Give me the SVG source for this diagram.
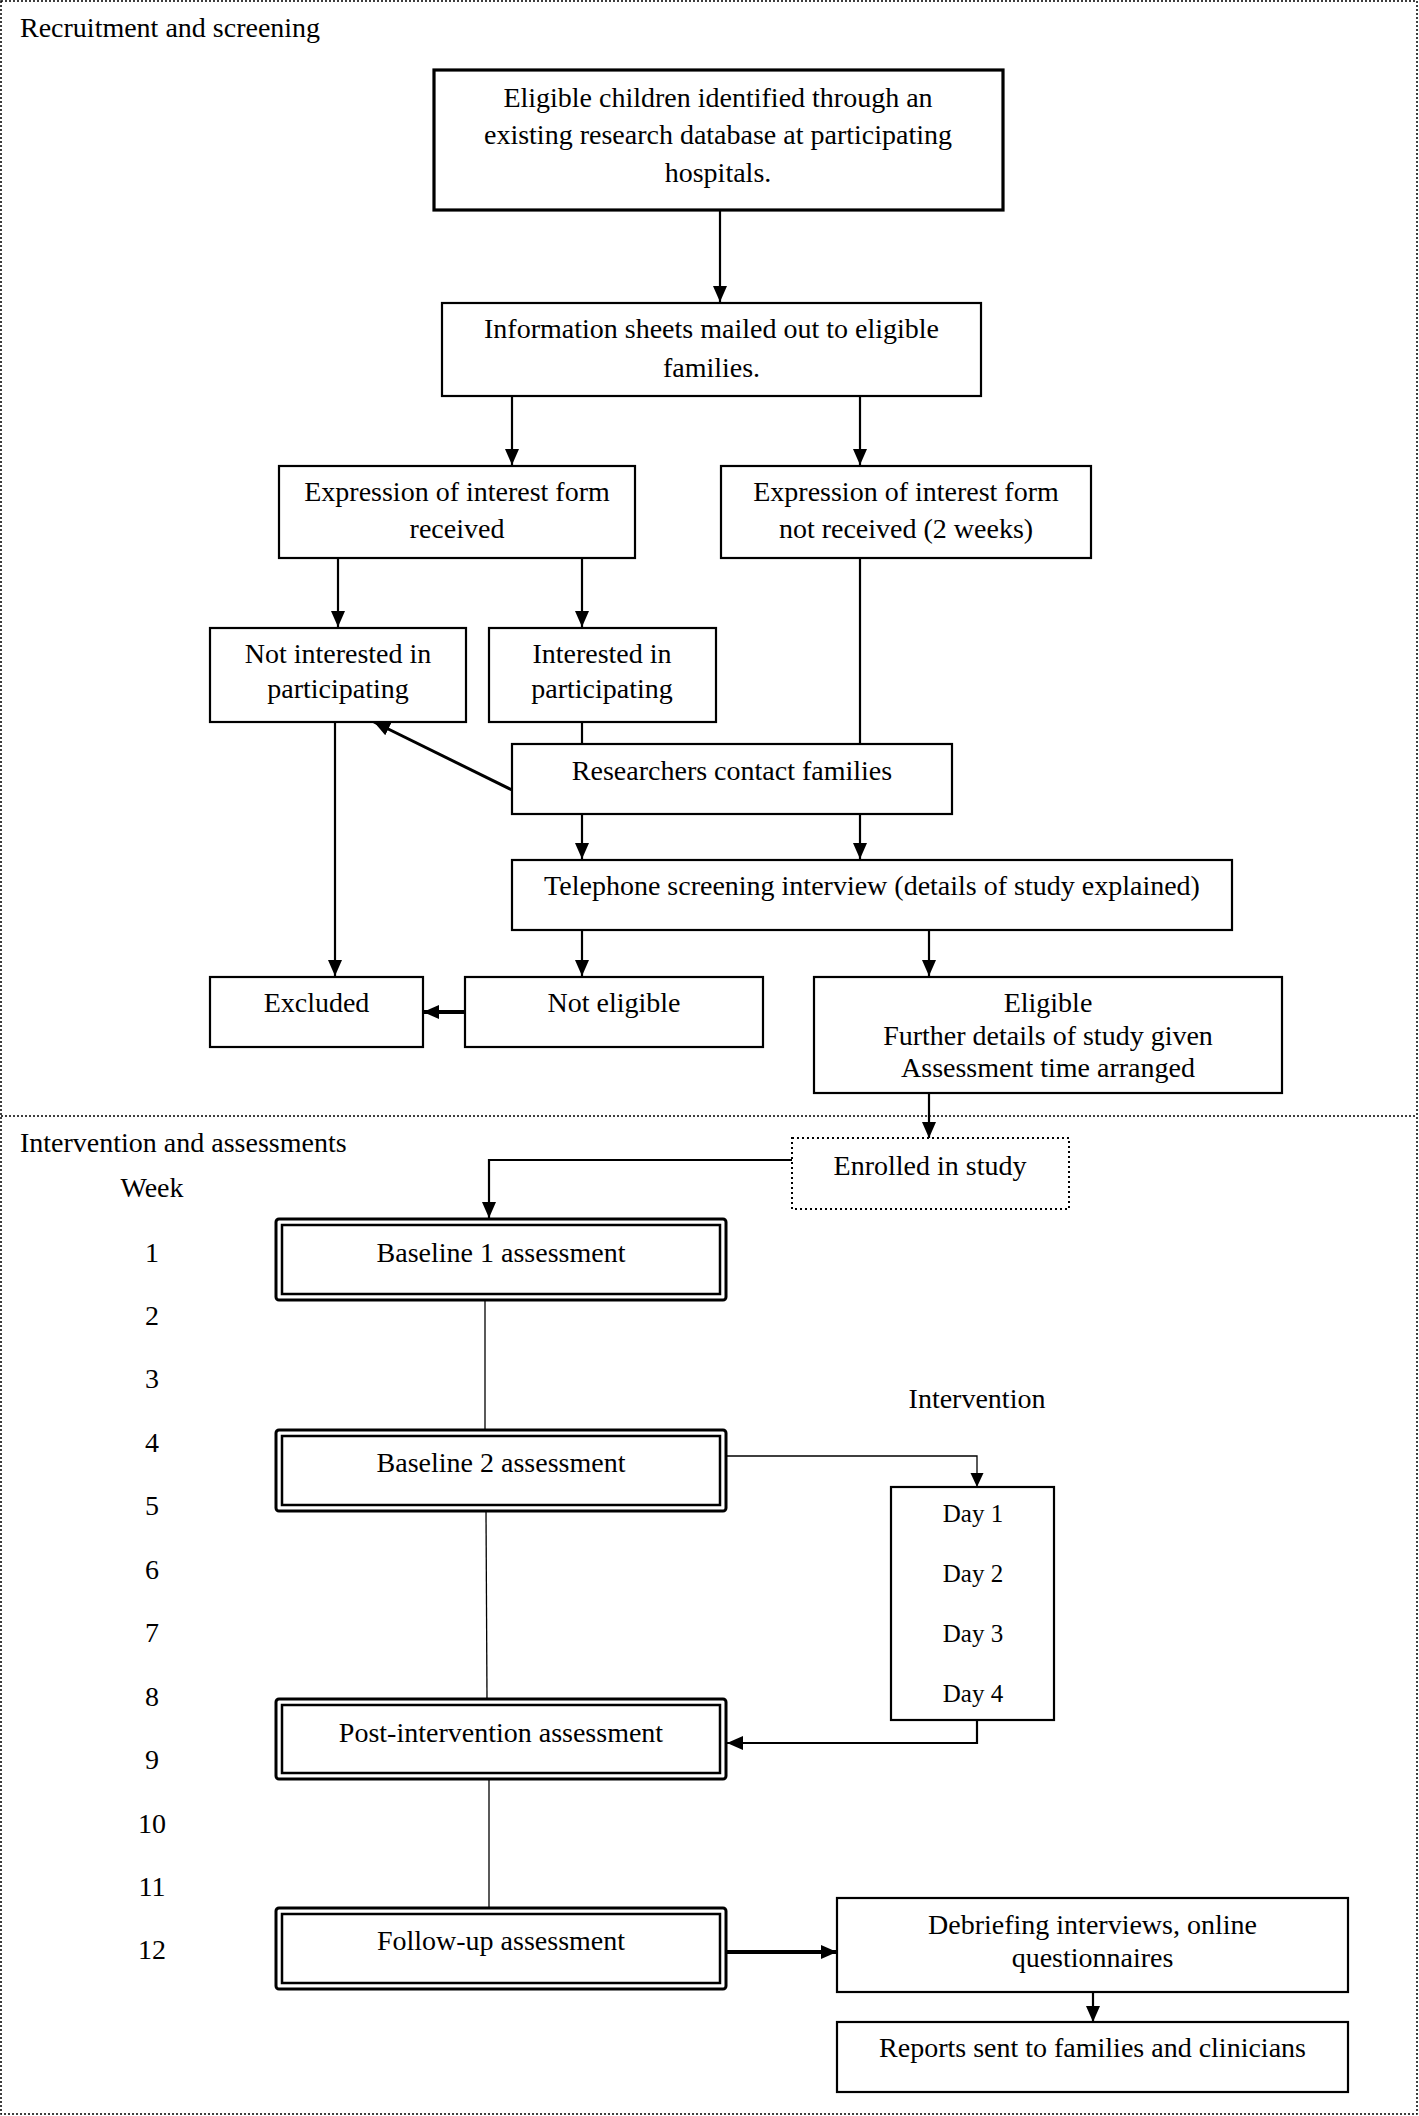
<svg xmlns="http://www.w3.org/2000/svg" width="1419" height="2116" viewBox="0 0 1419 2116">
<defs>
<marker id="ah" markerUnits="userSpaceOnUse" markerWidth="17" markerHeight="17" viewBox="0 0 17 17" refX="16" refY="8.5" orient="auto">
<path d="M0,1.5 L16,8.5 L0,15.5 z" fill="#000"/>
</marker>
<marker id="ahs" markerUnits="userSpaceOnUse" markerWidth="16" markerHeight="16" viewBox="0 0 16 16" refX="14" refY="8" orient="auto">
<path d="M0,1.5 L14,8 L0,14.5 z" fill="#000"/>
</marker>
</defs>
<style>
text{font-family:"Liberation Serif","Times New Roman",serif;font-size:28px;fill:#000}
.c{text-anchor:middle}
.d{font-size:25px}
.box{fill:#fff;stroke:#000;stroke-width:2.2}
.thick{stroke-width:3.2}
.dot{fill:#fff;stroke:#000;stroke-width:2;stroke-dasharray:2 3}
.dbo{fill:#fff;stroke:#000;stroke-width:3}
.dbi{fill:none;stroke:#000;stroke-width:2.5}
.frame{fill:none;stroke:#000;stroke-width:1.5;stroke-dasharray:2 2}
.ln{fill:none;stroke:#000;stroke-width:2.2}
.thin{fill:none;stroke:#000;stroke-width:1.3}
.bold{fill:none;stroke:#000;stroke-width:4}
.arr{marker-end:url(#ah)}
</style>

<g id="frame">
<rect class="frame" x="1" y="1" width="1416" height="2113"/>
<line class="frame" x1="1" y1="1116" x2="1417" y2="1116"/>
<text x="20" y="37">Recruitment and screening</text>
<text x="20" y="1152">Intervention and assessments</text>
</g>

<g id="weeks">
<text class="c" x="152" y="1197">Week</text>
<text class="c" x="152" y="1262">1</text>
<text class="c" x="152" y="1325">2</text>
<text class="c" x="152" y="1388">3</text>
<text class="c" x="152" y="1452">4</text>
<text class="c" x="152" y="1515">5</text>
<text class="c" x="152" y="1579">6</text>
<text class="c" x="152" y="1642">7</text>
<text class="c" x="152" y="1706">8</text>
<text class="c" x="152" y="1769">9</text>
<text class="c" x="152" y="1833">10</text>
<text class="c" x="152" y="1896">11</text>
<text class="c" x="152" y="1959">12</text>
<text class="c" x="977" y="1408">Intervention</text>
</g>

<g id="connectors">
<line class="ln arr" x1="720" y1="210" x2="720" y2="302"/>
<line class="ln arr" x1="512" y1="396" x2="512" y2="465"/>
<line class="ln arr" x1="860" y1="396" x2="860" y2="465"/>
<line class="ln arr" x1="338" y1="558" x2="338" y2="627"/>
<line class="ln arr" x1="582" y1="558" x2="582" y2="627"/>
<line class="ln" x1="860" y1="558" x2="860" y2="744"/>
<line class="ln" x1="582" y1="722" x2="582" y2="744"/>
<line class="ln arr" x1="512" y1="790" x2="374" y2="722" style="stroke-width:3"/>
<line class="ln arr" x1="335" y1="722" x2="335" y2="976"/>
<line class="ln arr" x1="582" y1="814" x2="582" y2="859"/>
<line class="ln arr" x1="860" y1="814" x2="860" y2="859"/>
<line class="ln arr" x1="582" y1="930" x2="582" y2="976"/>
<line class="ln arr" x1="929" y1="930" x2="929" y2="976"/>
<line class="bold arr" x1="465" y1="1012" x2="423" y2="1012"/>
<line class="ln arr" x1="929" y1="1093" x2="929" y2="1138"/>
<polyline class="ln arr" points="792,1160 489,1160 489,1218"/>
<line class="thin" x1="485" y1="1300" x2="485" y2="1430"/>
<line class="thin" x1="486" y1="1511" x2="487" y2="1699"/>
<polyline class="thin" marker-end="url(#ahs)" points="726,1456 977,1456 977,1487"/>
<polyline class="ln arr" points="977,1720 977,1743 727,1743"/>
<line class="thin" x1="489" y1="1779" x2="489" y2="1908"/>
<line class="bold arr" x1="726" y1="1952" x2="837" y2="1952"/>
<line class="ln arr" x1="1093" y1="1992" x2="1093" y2="2022"/>
</g>

<g id="identified">
<rect class="box thick" x="434" y="70" width="569" height="140"/>
<text class="c" x="718" y="107">Eligible children identified through an</text>
<text class="c" x="718" y="144">existing research database at participating</text>
<text class="c" x="718" y="182">hospitals.</text>
</g>
<g id="info-sheets">
<rect class="box" x="442" y="303" width="539" height="93"/>
<text class="c" x="711.5" y="338">Information sheets mailed out to eligible</text>
<text class="c" x="711.5" y="377">families.</text>
</g>
<g id="eoi-received">
<rect class="box" x="279" y="466" width="356" height="92"/>
<text class="c" x="457" y="501">Expression of interest form</text>
<text class="c" x="457" y="538">received</text>
</g>
<g id="eoi-not-received">
<rect class="box" x="721" y="466" width="370" height="92"/>
<text class="c" x="906" y="501">Expression of interest form</text>
<text class="c" x="906" y="538">not received (2 weeks)</text>
</g>
<g id="not-interested">
<rect class="box" x="210" y="628" width="256" height="94"/>
<text class="c" x="338" y="663">Not interested in</text>
<text class="c" x="338" y="698">participating</text>
</g>
<g id="interested">
<rect class="box" x="489" y="628" width="227" height="94"/>
<text class="c" x="602" y="663">Interested in</text>
<text class="c" x="602" y="698">participating</text>
</g>
<g id="researchers">
<rect class="box" x="512" y="744" width="440" height="70"/>
<text class="c" x="732" y="780">Researchers contact families</text>
</g>
<g id="telephone">
<rect class="box" x="512" y="860" width="720" height="70"/>
<text class="c" x="872" y="895">Telephone screening interview (details of study explained)</text>
</g>
<g id="excluded">
<rect class="box" x="210" y="977" width="213" height="70"/>
<text class="c" x="316.5" y="1012">Excluded</text>
</g>
<g id="not-eligible">
<rect class="box" x="465" y="977" width="298" height="70"/>
<text class="c" x="614" y="1012">Not eligible</text>
</g>
<g id="eligible">
<rect class="box" x="814" y="977" width="468" height="116"/>
<text class="c" x="1048" y="1012">Eligible</text>
<text class="c" x="1048" y="1045">Further details of study given</text>
<text class="c" x="1048" y="1077">Assessment time arranged</text>
</g>
<g id="enrolled">
<rect class="dot" x="792" y="1138" width="277" height="71"/>
<text class="c" x="930" y="1175">Enrolled in study</text>
</g>
<g id="baseline1">
<rect class="dbo" x="276" y="1219" width="450" height="81" rx="3"/>
<rect class="dbi" x="282" y="1225" width="438" height="69"/>
<text class="c" x="501" y="1262">Baseline 1 assessment</text>
</g>
<g id="baseline2">
<rect class="dbo" x="276" y="1430" width="450" height="81" rx="3"/>
<rect class="dbi" x="282" y="1436" width="438" height="69"/>
<text class="c" x="501" y="1472">Baseline 2 assessment</text>
</g>
<g id="post-intervention">
<rect class="dbo" x="276" y="1699" width="450" height="80" rx="3"/>
<rect class="dbi" x="282" y="1705" width="438" height="68"/>
<text class="c" x="501" y="1742">Post-intervention assessment</text>
</g>
<g id="follow-up">
<rect class="dbo" x="276" y="1908" width="450" height="81" rx="3"/>
<rect class="dbi" x="282" y="1914" width="438" height="69"/>
<text class="c" x="501" y="1950">Follow-up assessment</text>
</g>
<g id="days">
<rect class="box" x="891" y="1487" width="163" height="233"/>
<text class="c d" x="973" y="1522">Day 1</text>
<text class="c d" x="973" y="1582">Day 2</text>
<text class="c d" x="973" y="1642">Day 3</text>
<text class="c d" x="973" y="1702">Day 4</text>
</g>
<g id="debriefing">
<rect class="box" x="837" y="1898" width="511" height="94"/>
<text class="c" x="1092.5" y="1934">Debriefing interviews, online</text>
<text class="c" x="1092.5" y="1967">questionnaires</text>
</g>
<g id="reports">
<rect class="box" x="837" y="2022" width="511" height="70"/>
<text class="c" x="1092.5" y="2057">Reports sent to families and clinicians</text>
</g>
</svg>
